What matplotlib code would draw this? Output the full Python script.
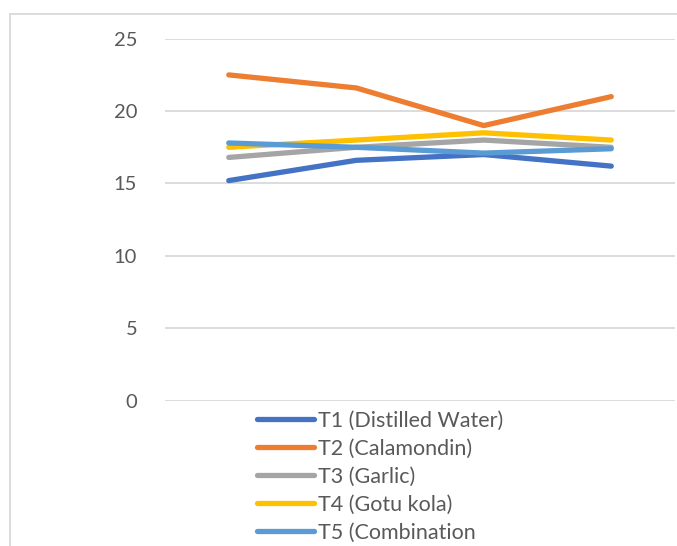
import matplotlib.pyplot as plt
from matplotlib.lines import Line2D

# data
categories = ["1", "2", "3", "4"]
t1 = [15.2, 16.6, 17.0, 16.2]
t2 = [22.5, 21.6, 19.0, 21.0]
t3 = [16.8, 17.5, 18.0, 17.5]
t4 = [17.5, 18.0, 18.5, 18.0]
t5 = [17.8, 17.5, 17.1, 17.4]
labels = ["T1 (Distilled Water)", "T2 (Calamondin)", "T3 (Garlic)",
          "T4 (Gotu kola)", "T5 (Combination"]
colors = ["#4472C4", "#ED7D31", "#A5A5A5", "#FFC000", "#5B9BD5"]

plt.rcParams['font.family'] = ['Lato', 'DejaVu Sans']

W, H = 677, 546
fig = plt.figure(figsize=(W / 100, H / 100), dpi=100)
ax = fig.add_axes([165 / W, (H - 400.7) / H, 510 / W, 362 / H])

x = range(len(categories))
for vals, lab, col in zip([t1, t2, t3, t4, t5], labels, colors):
    ax.plot(x, vals, color=col, lw=3.8, label=lab, solid_capstyle='round')

ax.set_xlim(-0.5, 3.5)
ax.set_ylim(0, 25)
ax.set_yticks(range(0, 26, 5))
ax.set_xticks([])
ax.grid(axis='y', color='#D9D9D9', lw=1.3, zorder=0)
ax.set_axisbelow(True)
for s in ax.spines.values():
    s.set_visible(False)
ax.tick_params(axis='y', length=0, pad=20, labelsize=14.5, labelcolor='#595959')

# outer chart border (cropped on right and bottom)
fig.add_artist(Line2D([10 / W, 10 / W], [0, (H - 14) / H], color='#D9D9D9', lw=1.3))
fig.add_artist(Line2D([10 / W, 1], [(H - 14) / H, (H - 14) / H], color='#D9D9D9', lw=1.3))

fig.legend(loc='upper left', bbox_to_anchor=(257 / W, (H - 411) / H),
           frameon=False, fontsize=15.5, labelcolor='#595959',
           handlelength=2.65, handletextpad=0.2, labelspacing=0.37,
           borderpad=0, borderaxespad=0)

fig.savefig("out.png", dpi=100)
